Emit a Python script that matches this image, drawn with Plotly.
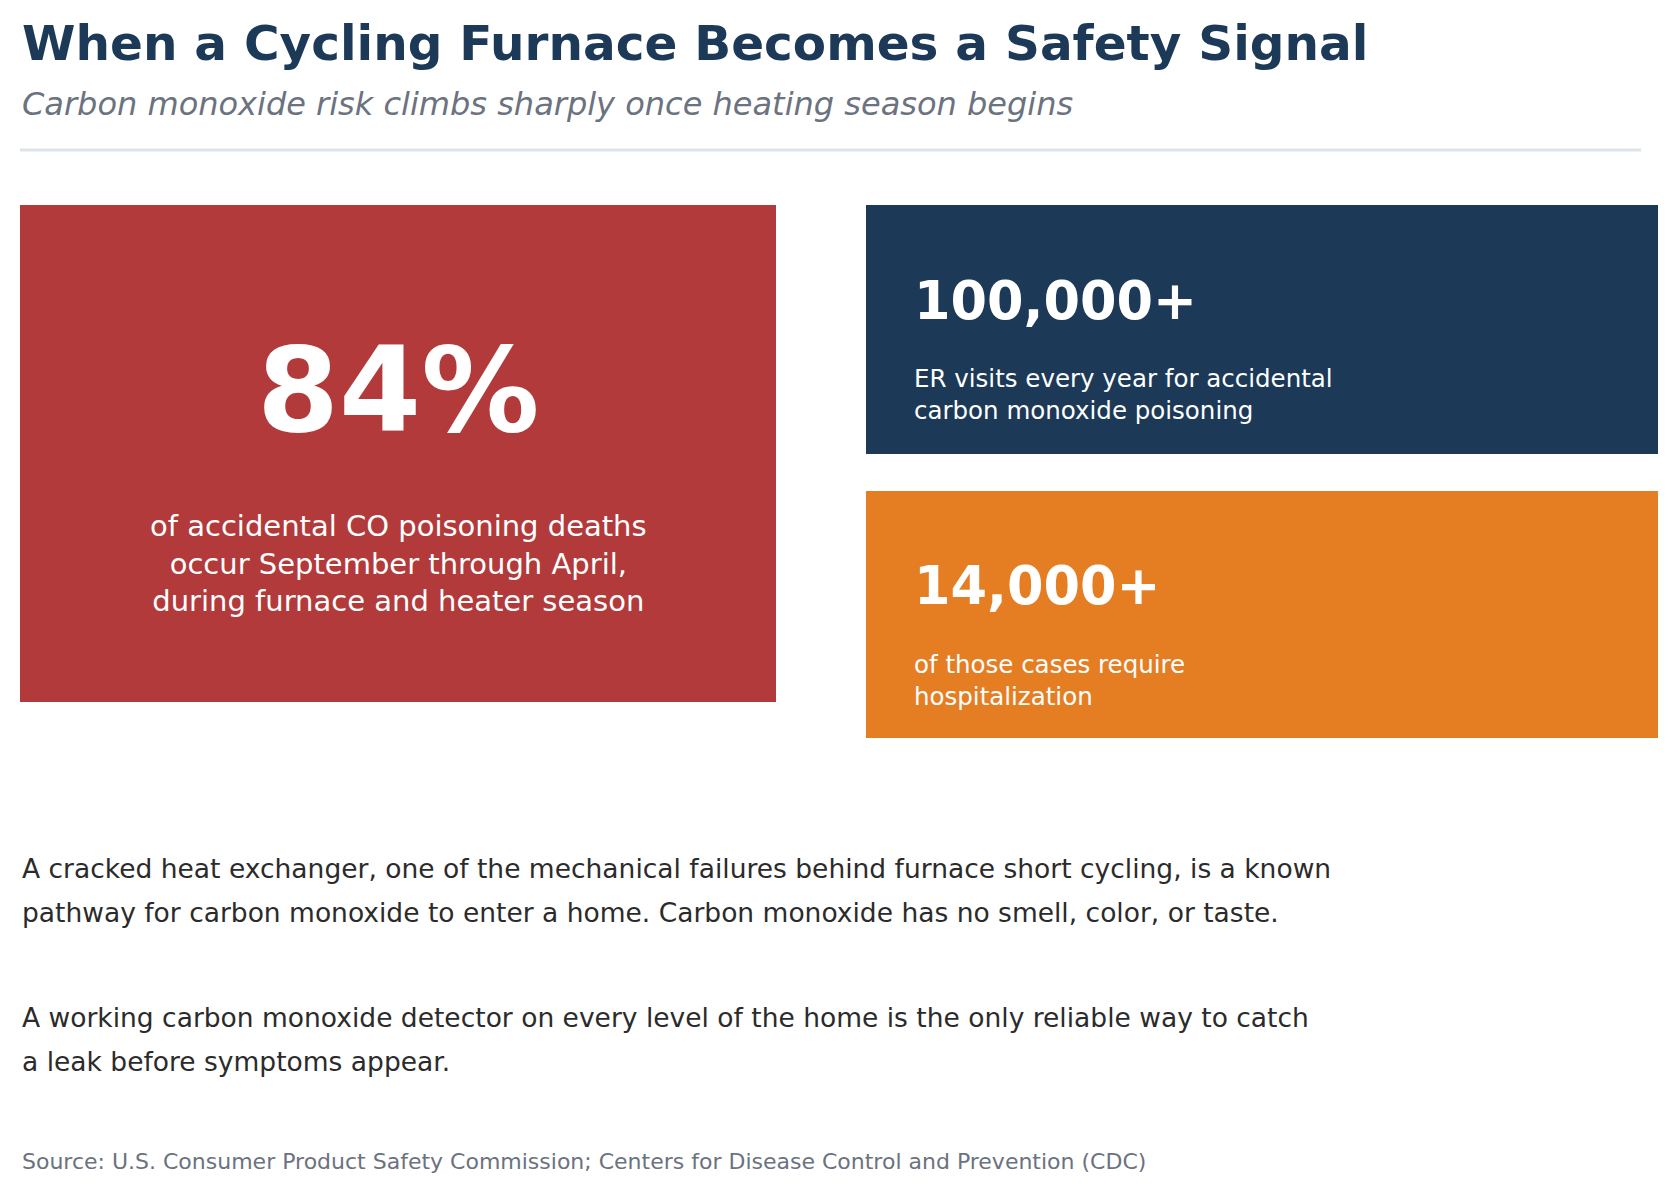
import plotly.graph_objects as go

W, H = 1678, 1191
title = "When a Cycling Furnace Becomes a Safety Signal"
subtitle = "Carbon monoxide risk climbs sharply once heating season begins"
stat_values = ["84%", "100,000+", "14,000+"]
stat_labels = [
    "of accidental CO poisoning deaths<br>occur September through April,<br>during furnace and heater season",
    "ER visits every year for accidental<br>carbon monoxide poisoning",
    "of those cases require<br>hospitalization",
]
stat_colors = ["#b23a3b", "#1c3957", "#e57e23"]
paragraph_lines = [
    ["A cracked heat exchanger, one of the mechanical failures behind furnace short cycling, is a known",
     "pathway for carbon monoxide to enter a home. Carbon monoxide has no smell, color, or taste."],
    ["A working carbon monoxide detector on every level of the home is the only reliable way to catch",
     "a leak before symptoms appear."],
]
source = "Source: U.S. Consumer Product Safety Commission; Centers for Disease Control and Prevention (CDC)"

F = "DejaVu Sans"
O = -8
fig = go.Figure()
fig.add_trace(go.Scatter(x=[0], y=[0], mode="markers", marker=dict(opacity=0), hoverinfo="skip", showlegend=False))

boxes = [(20, 205, 776, 702), (866, 205, 1658, 454), (866, 491, 1658, 738)]
for (x0, y0, x1, y1), c in zip(boxes, stat_colors):
    fig.add_shape(type="rect", x0=x0 + O, y0=y0 + O, x1=x1 + O, y1=y1 + O, fillcolor=c, line_width=0, layer="below")
fig.add_shape(type="line", x0=20 + O, x1=1641 + O, y0=150 + O, y1=150 + O, line=dict(color="#dde3ea", width=3))

ann = []
def A(x, y, t, size, color, xanchor="left", bold=False, italic=False, align="left"):
    txt = t
    if bold: txt = "<b>" + txt + "</b>"
    if italic: txt = "<i>" + txt + "</i>"
    ann.append(dict(x=x + O, y=y + O, xref="x", yref="y", text=txt, showarrow=False, xanchor=xanchor,
                    yanchor="middle", align=align, font=dict(family=F, size=size, color=color)))

A(20, 43, title, 48.5, "#1c3957", bold=True)
A(20, 104, subtitle, 32, "#6b7280", italic=True)
A(398, 390, stat_values[0], 118, "white", xanchor="center", bold=True)
A(398, 563, stat_labels[0], 29, "white", xanchor="center", align="center")
A(912, 300, stat_values[1], 52.5, "white", bold=True)
A(912, 394, stat_labels[1], 24.5, "white")
A(912, 585, stat_values[2], 52.5, "white", bold=True)
A(912, 680, stat_labels[2], 24.5, "white")
ys = [[868, 912], [1017, 1061]]
for lines, yy in zip(paragraph_lines, ys):
    for ln, y in zip(lines, yy):
        A(20, y, ln, 26.5, "#2b2b2b")
A(20, 1161, source, 22, "#6b7280")

fig.update_layout(width=W, height=H, margin=dict(l=0, r=0, t=0, b=0), paper_bgcolor="white",
                  plot_bgcolor="white", annotations=ann,
                  xaxis=dict(range=[0, W], visible=False, fixedrange=True),
                  yaxis=dict(range=[H, 0], visible=False, fixedrange=True))
fig.write_html("out.html")
